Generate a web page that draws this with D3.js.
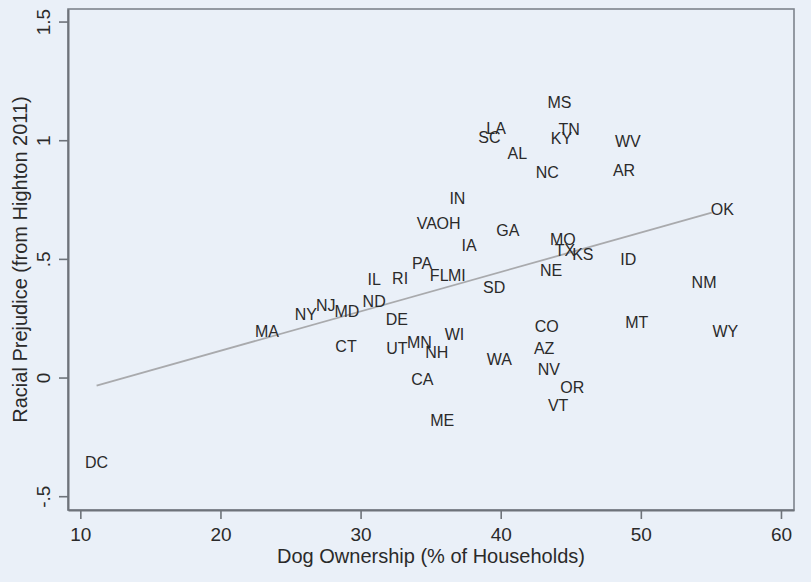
<!DOCTYPE html>
<html>
<head>
<meta charset="utf-8">
<script src="https://cdn.jsdelivr.net/npm/d3@7"></script>
<style>
  body { margin: 0; background: #eaf0f8; }
  svg { display: block; font-family: "Liberation Sans", Arial, sans-serif; }
</style>
</head>
<body>
<svg width="811" height="582"></svg>
<script>
// state abbreviations with dog ownership (% households) and racial prejudice
var states = ["MS","LA","SC","TN","KY","WV","AL","NC","AR","IN","VA","OH","GA","IA","MO","TX","KS","ID",
  "PA","FL","MI","IL","RI","NE","SD","ND","DE","WI","CO","MT","WY","UT","MN","NH","AZ","WA","NV","CA",
  "OR","VT","ME","NM","OK","NY","NJ","MD","MA","CT","DC"];
var dogPct = [44.19,39.67,39.19,44.88,44.33,49.07,41.19,43.33,48.80,36.91,34.73,36.27,40.51,37.75,44.43,44.59,45.86,49.11,
  34.39,35.61,36.87,30.97,32.82,43.59,39.53,30.97,32.59,36.70,43.29,49.71,56.03,32.59,34.20,35.44,43.10,39.91,43.43,34.41,
  45.11,44.10,35.82,54.51,55.81,26.10,27.52,29.02,23.32,28.96,11.16];
var prejudice = [1.162,1.054,1.015,1.047,1.008,0.996,0.945,0.867,0.877,0.759,0.650,0.650,0.621,0.558,0.586,0.537,0.520,0.502,
  0.484,0.432,0.432,0.414,0.418,0.453,0.383,0.324,0.246,0.182,0.217,0.233,0.196,0.123,0.150,0.109,0.126,0.078,0.036,-0.005,
  -0.039,-0.115,-0.180,0.401,0.710,0.270,0.305,0.280,0.197,0.134,-0.356];

// linear fit endpoints
var fitX = [11.16, 55.06];
var fitY = [-0.032, 0.697];

var xTicks = [10, 20, 30, 40, 50, 60];
var yTicks = [-0.5, 0, 0.5, 1, 1.5];
var yTickLabels = ["-.5", "0", ".5", "1", "1.5"];

var svg = d3.select("svg");
var plotL = 68, plotR = 794, plotT = 9, plotB = 510;

var x = d3.scaleLinear().domain([9.12, 60.93]).range([plotL, plotR]);
var y = d3.scaleLinear().domain([-0.556, 1.555]).range([plotB, plotT]);

// plot region frame
svg.append("rect")
  .attr("x", plotL).attr("y", plotT)
  .attr("width", plotR - plotL).attr("height", plotB - plotT)
  .attr("fill", "#eaf0f8")
  .attr("stroke", "#7e848c")
  .attr("stroke-width", 1.6);

// axes
var xAxis = svg.append("g")
  .attr("transform", "translate(0," + plotB + ")")
  .call(d3.axisBottom(x).tickValues(xTicks).tickSizeInner(9).tickSizeOuter(0).tickPadding(7)
    .tickFormat(d3.format("d")));
var yAxis = svg.append("g")
  .attr("transform", "translate(" + plotL + ",0)")
  .call(d3.axisLeft(y).tickValues(yTicks).tickSizeInner(9).tickSizeOuter(0).tickPadding(4)
    .tickFormat(function (d, i) { return yTickLabels[i]; }));

[xAxis, yAxis].forEach(function (g) {
  g.select(".domain").attr("stroke", "#6e737a").attr("stroke-width", 2);
  g.selectAll(".tick line").attr("stroke", "#6e737a").attr("stroke-width", 1.6);
  g.selectAll(".tick text").attr("fill", "#2a2a2a").style("font-size", "19px");
});

xAxis.selectAll(".tick text").attr("dy", "0.8em");
// rotate y tick labels like stata does
yAxis.selectAll(".tick").attr("transform", "translate(0,0)");
yAxis.selectAll(".tick line")
  .attr("y1", function (d) { return y(d); })
  .attr("y2", function (d) { return y(d); });
yAxis.selectAll(".tick text")
  .attr("text-anchor", "middle")
  .attr("transform", "rotate(-90)")
  .attr("x", function (d) { return -y(d); })
  .attr("y", -18)
  .attr("dy", 0);

// fitted line
svg.append("line")
  .attr("x1", x(fitX[0])).attr("y1", y(fitY[0]))
  .attr("x2", x(fitX[1])).attr("y2", y(fitY[1]))
  .attr("stroke", "#a9aaad")
  .attr("stroke-width", 1.8);

// state labels
svg.append("g").selectAll("text")
  .data(states)
  .enter().append("text")
  .attr("x", function (d, i) { return x(dogPct[i]); })
  .attr("y", function (d, i) { return y(prejudice[i]); })
  .attr("text-anchor", "middle")
  .attr("dy", "0.35em")
  .attr("fill", "#2a2a2a")
  .style("font-size", "16px")
  .text(function (d) { return d; });

// axis titles
svg.append("text")
  .attr("x", (plotL + plotR) / 2).attr("y", 563)
  .attr("text-anchor", "middle")
  .attr("fill", "#2a2a2a")
  .style("font-size", "20px")
  .text("Dog Ownership (% of Households)");

svg.append("text")
  .attr("transform", "translate(27," + ((plotT + plotB) / 2) + ") rotate(-90)")
  .attr("text-anchor", "middle")
  .attr("fill", "#2a2a2a")
  .style("font-size", "20px")
  .text("Racial Prejudice (from Highton 2011)");
</script>
</body>
</html>
